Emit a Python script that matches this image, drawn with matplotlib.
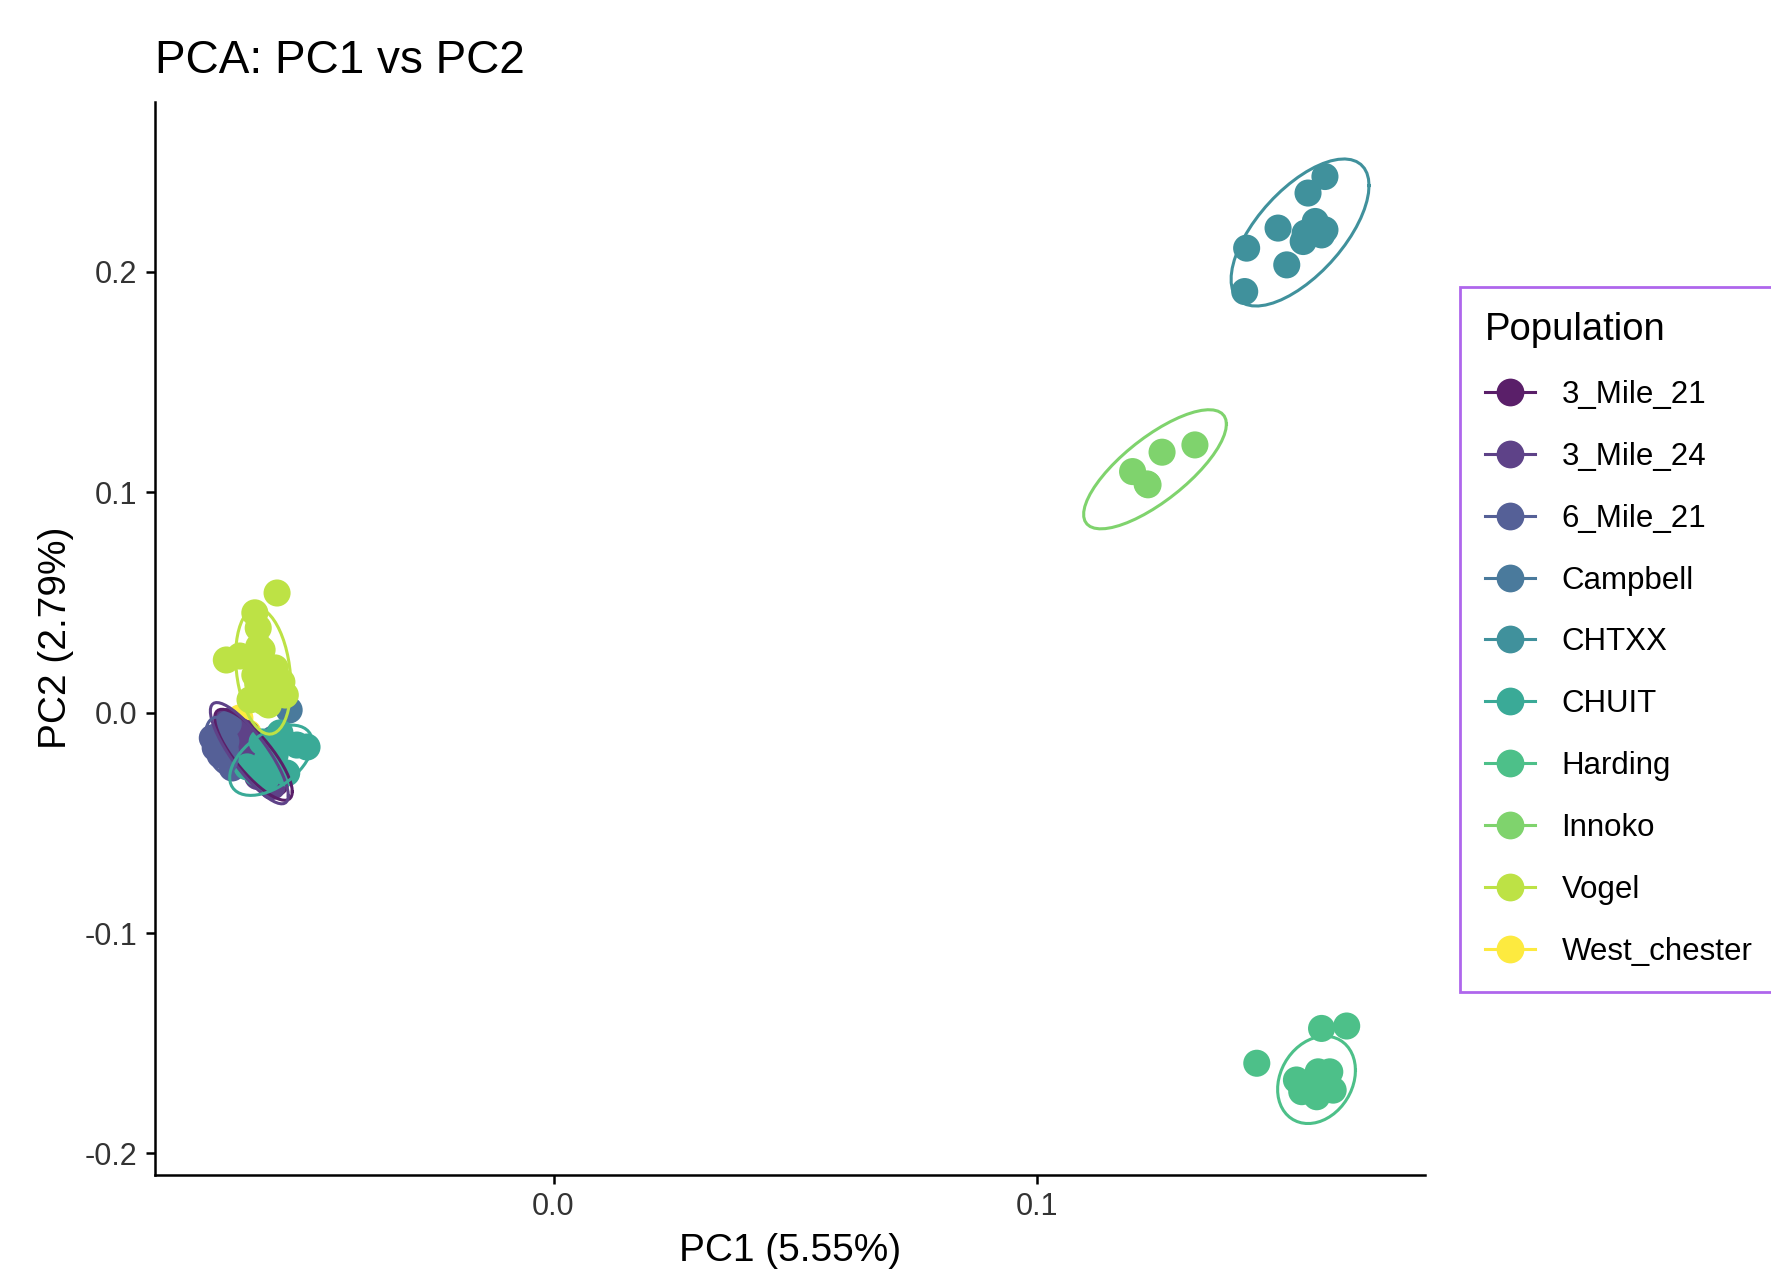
import numpy as np
import matplotlib
matplotlib.use("Agg")
import matplotlib.pyplot as plt
from matplotlib.colors import to_rgb
from matplotlib.lines import Line2D

plt.rcParams['font.family'] = ['Liberation Sans', 'DejaVu Sans']

# Population labels and viridis colours (same order as legend)
populations = ["3_Mile_21", "3_Mile_24", "6_Mile_21", "Campbell", "CHTXX",
               "CHUIT", "Harding", "Innoko", "Vogel", "West_chester"]
colors = ["#440154", "#482878", "#3E4A89", "#31688E", "#26828E",
          "#1F9E89", "#35B779", "#6DCD59", "#B4DE2C", "#FDE725"]

# PC scores (some points sit under others)
pc1 = {
    "3_Mile_21": [-0.0665, -0.0635, -0.0655, -0.0612, -0.0632, -0.0585, -0.0605,
                  -0.0645, -0.0600, -0.0575],
    "3_Mile_24": [-0.0675, -0.0648, -0.0660, -0.0620, -0.0640, -0.0595, -0.0612,
                  -0.0650, -0.0605, -0.0582],
    "6_Mile_21": [-0.0706, -0.0690, -0.0673, -0.0665, -0.0700, -0.0696,
                  -0.0685, -0.0680, -0.0678],
    "Campbell": [-0.0547, -0.0580],
    "CHTXX": [0.1596, 0.1561, 0.1499, 0.1434, 0.1517, 0.1430, 0.1555, 0.1576,
              0.1589, 0.1551, 0.1596],
    "CHUIT": [-0.0531, -0.0510, -0.0566, -0.0593, -0.0552, -0.0614, -0.0634,
              -0.0603, -0.0576, -0.0590, -0.0600, -0.0595],
    "Harding": [0.1455, 0.1589, 0.1641, 0.1537, 0.1548, 0.1582, 0.1606, 0.1579,
                0.1613, 0.1596, 0.1565, 0.1575, 0.1585],
    "Innoko": [0.1327, 0.1259, 0.1198, 0.1228, 0.1230],
    "Vogel": [-0.0572, -0.0618, -0.0611, -0.0677, -0.0649, -0.0603, -0.0576,
              -0.0562, -0.0597, -0.0628, -0.0590, -0.0555, -0.0618,
              -0.0600, -0.0595, -0.0605, -0.0590, -0.0610, -0.0600, -0.0585, -0.0612],
    "West_chester": [-0.0632, -0.0649],
}
pc2 = {
    "3_Mile_21": [-0.0060, -0.0095, -0.0150, -0.0175, -0.0215, -0.0240, -0.0285,
                  -0.0170, -0.0200, -0.0320],
    "3_Mile_24": [-0.0040, -0.0085, -0.0140, -0.0165, -0.0210, -0.0235, -0.0290,
                  -0.0165, -0.0195, -0.0335],
    "6_Mile_21": [-0.0115, -0.0192, -0.0051, -0.0251, -0.0160, -0.0108,
                  -0.0150, -0.0170, -0.0130],
    "Campbell": [0.0012, -0.0120],
    "CHTXX": [0.2433, 0.2358, 0.2199, 0.2108, 0.2032, 0.1911, 0.2176, 0.2229,
              0.2168, 0.2138, 0.2191],
    "CHUIT": [-0.0147, -0.0156, -0.0092, -0.0215, -0.0274, -0.0274, -0.0246,
              -0.0133, -0.0192, -0.0230, -0.0250, -0.0300],
    "Harding": [-0.1591, -0.1433, -0.1422, -0.1667, -0.1720, -0.1630, -0.1630,
                -0.1743, -0.1713, -0.1682, -0.1690, -0.1680, -0.1700],
    "Innoko": [0.1215, 0.1182, 0.1094, 0.1038, 0.1034],
    "Vogel": [0.0543, 0.0453, 0.0384, 0.0239, 0.0257, 0.0285, 0.0203, 0.0139,
              0.0112, 0.0058, 0.0035, 0.0080, 0.0171,
              0.0200, 0.0150, 0.0250, 0.0100, 0.0300, 0.0050, 0.0180, 0.0130],
    "West_chester": [-0.0092, -0.0024],
}

x_ticks = [0.0, 0.1]
y_ticks = [-0.2, -0.1, 0.0, 0.1, 0.2]


def soften(c, f=0.12):
    # the screenshot shows the viridis colours a little washed out
    r, g, b = to_rgb(c)
    return (r + (1 - r) * f, g + (1 - g) * f, b + (1 - b) * f)


def cov_trob(xy, nu=5, maxit=25, tol=0.01):
    # robust t covariance, like MASS::cov.trob
    n, p = xy.shape
    loc = xy.mean(axis=0)
    w = np.ones(n)
    X = xy - loc
    for _ in range(maxit):
        w0 = w
        X = xy - loc
        S = (X * (w / w.sum())[:, None]).T @ X
        Q = np.einsum('ij,jk,ik->i', X, np.linalg.inv(S), X)
        w = (nu + p) / (nu + Q)
        loc = (w[:, None] * xy).sum(axis=0) / w.sum()
        if np.all(np.abs(w - w0) < tol):
            break
    cov = (X * w[:, None]).T @ X / n
    return loc, cov


def ellipse_path(xs, ys, level=0.95, segments=51):
    # same recipe as ggplot2::stat_ellipse(type = "t")
    xy = np.column_stack([xs, ys])
    n = len(xy)
    center, shape = cov_trob(xy)
    dfd = n - 1
    qf = dfd / 2.0 * ((1 - level) ** (-2.0 / dfd) - 1)
    radius = np.sqrt(2 * qf)
    ang = np.arange(segments + 1) * 2 * np.pi / segments
    circle = np.column_stack([np.cos(ang), np.sin(ang)])
    chol = np.linalg.cholesky(shape).T
    return center + radius * (circle @ chol)


fig = plt.figure(figsize=(17.71, 12.70), dpi=100)
ax = fig.add_axes([0.0874, 0.075, 0.7175, 0.845])

draw_order = ["West_chester", "3_Mile_21", "3_Mile_24", "6_Mile_21", "Campbell",
              "CHTXX", "CHUIT", "Harding", "Innoko", "Vogel"]
col = {p: soften(c) for p, c in zip(populations, colors)}
for pop in draw_order:
    ax.scatter(pc1[pop], pc2[pop], s=380, color=col[pop],
               edgecolors='none', zorder=2)
for pop in populations:
    if len(pc1[pop]) < 3:
        continue
    e = ellipse_path(pc1[pop], pc2[pop])
    ax.plot(e[:, 0], e[:, 1], color=col[pop], lw=2.2, zorder=3)

ax.set_xlim(-0.0825, 0.1804)
ax.set_ylim(-0.2097, 0.2773)
ax.set_xticks(x_ticks)
ax.set_xticklabels([f"{v:.1f}" for v in x_ticks])
ax.set_yticks(y_ticks)
ax.set_yticklabels([f"{v:.1f}" for v in y_ticks])
for s in ['top', 'right']:
    ax.spines[s].set_visible(False)
for s in ['left', 'bottom']:
    ax.spines[s].set_linewidth(1.8)
ax.tick_params(length=6.5, width=1.8, labelsize=22, labelcolor='#333333', pad=6)
ax.set_xlabel("PC1 (5.55%)", fontsize=28, labelpad=8)
ax.set_ylabel("PC2 (2.79%)", fontsize=28, labelpad=7.6)
ax.set_title("PCA: PC1 vs PC2", fontsize=33, loc='left', pad=20.5)

handles = [Line2D([], [], color=col[p], lw=2.2, marker='o', markersize=20,
                  markeredgewidth=0) for p in populations]
leg = fig.legend(handles, populations, title="Population", loc='upper left',
                 bbox_to_anchor=(1460 / 1771, 1 - 287 / 1270), fontsize=22.5,
                 title_fontsize=27.5, frameon=True, fancybox=False,
                 borderpad=0.8, labelspacing=1.02, handlelength=1.6,
                 handletextpad=0.85, alignment='left', borderaxespad=0)
leg.get_frame().set_edgecolor('#9B40E8')
leg.get_frame().set_linewidth(2.0)

fig.savefig("out.png", dpi=100)
